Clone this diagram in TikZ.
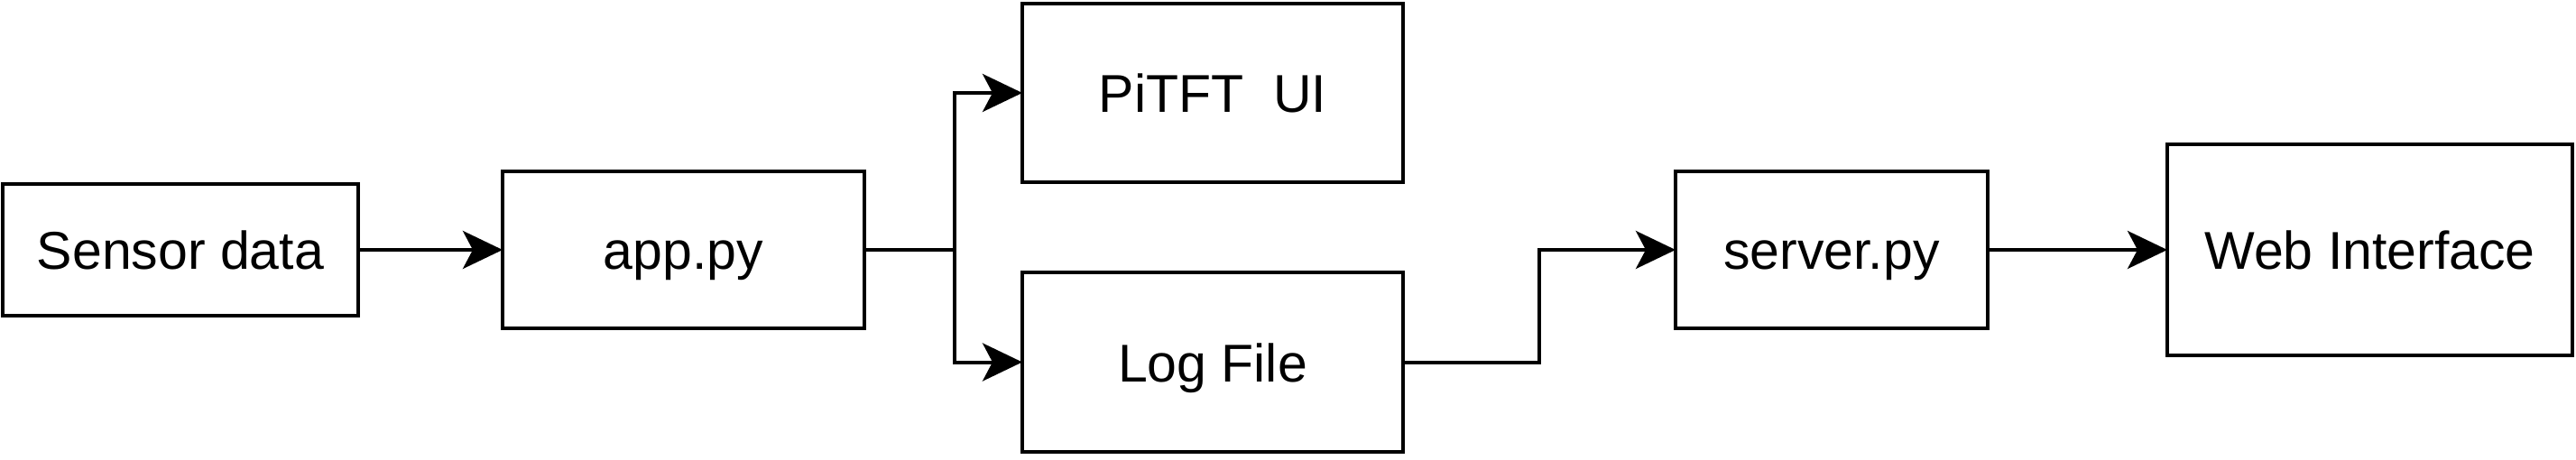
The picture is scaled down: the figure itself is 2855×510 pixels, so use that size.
\documentclass[tikz,border=0pt]{standalone}
\usepackage{fontspec}
\setmainfont{Liberation Sans}
\usetikzlibrary{arrows.meta}
\begin{document}
\begin{tikzpicture}[x=1pt,y=-1pt,
  box/.style={draw=black,line width=4pt,rectangle,inner sep=0pt,outer sep=0pt,
    font=\fontsize{59}{70}\selectfont,text height=43pt,text depth=0pt},
  conn/.style={draw=black,line width=4pt,-{Stealth[length=44pt,width=42pt,inset=11pt]}}]
\useasboundingbox (0,0) rectangle (2855,510);
\node[box,minimum width=394pt,minimum height=146pt] (sensor) at (200,277) {Sensor data};
\node[box,minimum width=401pt,minimum height=174pt] (app) at (757.5,277) {app.py};
\node[box,minimum width=422pt,minimum height=198pt] (pitft) at (1344,103) {PiTFT\ \ UI};
\node[box,minimum width=422pt,minimum height=199pt] (log) at (1344,401.5) {Log File};
\node[box,minimum width=346pt,minimum height=174pt] (server) at (2030,277) {server.py};
\node[box,minimum width=449pt,minimum height=234pt] (web) at (2626.5,277) {Web Interface};
\coordinate (split) at (1058,277);
\coordinate (bend) at (1706,277);
\draw[conn] (sensor.east) -- (app.west);
\draw[line width=4pt] (app.east) -- (split);
\draw[conn] (split) |- (pitft.west);
\draw[conn] (split) |- (log.west);
\draw[conn] (log.east) -| (bend) -- (server.west);
\draw[conn] (server.east) -- (web.west);
\end{tikzpicture}
\end{document}
